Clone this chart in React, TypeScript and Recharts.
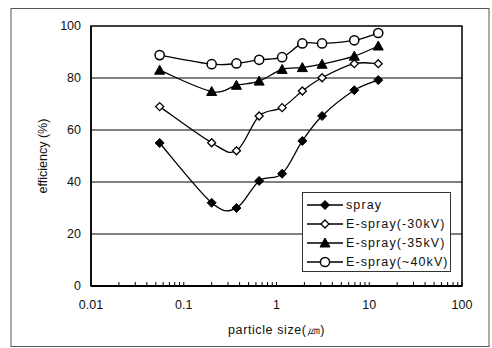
import { LineChart, Line, XAxis, YAxis, CartesianGrid, ReferenceArea } from 'recharts'

const sizes = [0.055, 0.2, 0.37, 0.65, 1.15, 1.9, 3.1, 6.9, 12.5]
const spray = [55, 32, 30, 40.4, 43.2, 55.8, 65.4, 75.3, 79.2]
const espray30 = [69, 55.1, 52, 65.4, 68.6, 75, 80.1, 85.5, 85.5]
const espray35 = [83, 74.8, 77.2, 78.8, 83.3, 84, 85.3, 88.4, 92.3]
const espray40 = [88.8, 85.3, 85.6, 87, 88, 93.3, 93.3, 94.5, 97.3]

const seriesNames = ['spray', 'E-spray(-30kV)', 'E-spray(-35kV)', 'E-spray(~40kV)']
const yTicks = [0, 20, 40, 60, 80, 100]
const xLabels: Record<string, string> = { '0.01': '0.01', '0.1': '0.1', '1': '1', '10': '10', '100': '100' }
const xTicks = [
  0.01, 0.02, 0.03, 0.04, 0.05, 0.06, 0.07, 0.08, 0.09,
  0.1, 0.2, 0.3, 0.4, 0.5, 0.6, 0.7, 0.8, 0.9,
  1, 2, 3, 4, 5, 6, 7, 8, 9,
  10, 20, 30, 40, 50, 60, 70, 80, 90,
  100,
]

const data = sizes.map((x, i) => ({
  x,
  spray: spray[i],
  e30: espray30[i],
  e35: espray35[i],
  e40: espray40[i],
}))

// catmull-rom style smoothing, close to the spreadsheet "smoothed line"
const smooth: any = (ctx: any) => {
  let pts: [number, number][] = []
  return {
    areaStart() {},
    areaEnd() {},
    lineStart() { pts = [] },
    point(x: number, y: number) { pts.push([x, y]) },
    lineEnd() {
      if (!pts.length) return
      ctx.moveTo(pts[0][0], pts[0][1])
      for (let i = 0; i < pts.length - 1; i++) {
        const p0 = pts[Math.max(i - 1, 0)]
        const p1 = pts[i]
        const p2 = pts[i + 1]
        const p3 = pts[Math.min(i + 2, pts.length - 1)]
        ctx.bezierCurveTo(
          p1[0] + (p2[0] - p0[0]) / 6, p1[1] + (p2[1] - p0[1]) / 6,
          p2[0] - (p3[0] - p1[0]) / 6, p2[1] - (p3[1] - p1[1]) / 6,
          p2[0], p2[1],
        )
      }
    },
  }
}

function Marker({ kind, cx, cy }: { kind: number; cx: number; cy: number }) {
  if (kind === 0) return <path d={`M${cx},${cy - 4.5}L${cx + 4.5},${cy}L${cx},${cy + 4.5}L${cx - 4.5},${cy}Z`} fill="#000" stroke="#000" strokeWidth={1} />
  if (kind === 1) return <path d={`M${cx},${cy - 4}L${cx + 4},${cy}L${cx},${cy + 4}L${cx - 4},${cy}Z`} fill="#fff" stroke="#000" strokeWidth={1.3} />
  if (kind === 2) return <path d={`M${cx},${cy - 5}L${cx + 5},${cy + 4}L${cx - 5},${cy + 4}Z`} fill="#000" stroke="#000" strokeWidth={1} />
  return <circle cx={cx} cy={cy} r={4.6} fill="#fff" stroke="#000" strokeWidth={1.5} />
}

const dotFor = (kind: number) => (p: any) => <Marker key={p.index} kind={kind} cx={p.cx} cy={p.cy} />

function XTick(props: any) {
  const { x, y, payload } = props
  const label = xLabels[String(payload.value)]
  return (
    <g>
      <line x1={x} y1={y} x2={x} y2={y - 4} stroke="#000" strokeWidth={1} />
      {label && (
        <text x={x} y={y + 23} textAnchor="middle" fontSize={12.5} fill="#111">
          {label}
        </text>
      )}
    </g>
  )
}

function LegendBox() {
  return (
    <div
      style={{
        position: 'absolute',
        left: 302,
        top: 192,
        boxSizing: 'border-box',
        width: 149,
        height: 80,
        border: '1px solid #333',
        background: '#fff',
        padding: '2px 0 0 4px',
        fontFamily: '"Liberation Sans", Arial, sans-serif',
        fontSize: 12.5,
        letterSpacing: 1.1,
        color: '#111',
      }}
    >
      {seriesNames.map((n, i) => (
        <div key={n} style={{ display: 'flex', alignItems: 'center', height: 19 }}>
          <svg width={37} height={12} style={{ marginRight: 2 }}>
            <line x1={0} y1={6} x2={36} y2={6} stroke="#000" strokeWidth={1.5} />
            <Marker kind={i} cx={18} cy={6} />
          </svg>
          <span>{n}</span>
        </div>
      ))}
    </div>
  )
}

export default function App() {
  return (
    <div style={{ position: 'relative', width: 492, height: 348, background: '#fff' }}>
      <style>{'body{margin:0}'}</style>
      <svg width={492} height={348} style={{ position: 'absolute', left: 0, top: 0 }}>
        <rect x={11} y={8.5} width={478} height={338} fill="none" stroke="#555" strokeWidth={1} />
      </svg>
      <div style={{ position: 'absolute', left: 0, top: 0 }}>
        <LineChart
          width={492}
          height={348}
          data={data}
          margin={{ top: 26, right: 30, bottom: 0, left: 31 }}
          style={{ fontFamily: '"Liberation Sans", Arial, sans-serif' }}
        >
          <CartesianGrid vertical={false} stroke="#000" strokeWidth={1} horizontalValues={[20, 40, 60, 80]} />
          <ReferenceArea x1={0.01} x2={100} y1={0} y2={100} fill="none" stroke="#000" strokeWidth={1.5} ifOverflow="visible" />
          <XAxis
            dataKey="x"
            type="number"
            scale="log"
            domain={[0.01, 100]}
            ticks={xTicks}
            interval={0}
            tickLine={false}
            tickSize={0}
            tickMargin={0}
            tick={<XTick />}
            axisLine={{ stroke: '#000', strokeWidth: 2 }}
            height={62}
            allowDataOverflow
            label={{ value: 'particle size(㎛)', position: 'insideBottom', offset: 14, fill: '#111', fontSize: 12.5, letterSpacing: 0.6 }}
          />
          <YAxis
            type="number"
            domain={[0, 100]}
            ticks={yTicks}
            interval={0}
            width={60}
            tickLine={false}
            tickSize={0}
            tickMargin={10}
            axisLine={{ stroke: '#000', strokeWidth: 1.5 }}
            tick={{ fill: '#111', fontSize: 12.5 }}
            label={{ value: 'efficiency (%)', angle: -90, position: 'insideLeft', offset: 12, fill: '#111', fontSize: 12.5, style: { textAnchor: 'middle' } }}
          />
          <Line dataKey="spray" name={seriesNames[0]} type={smooth} stroke="#000" strokeWidth={1.3} dot={dotFor(0)} isAnimationActive={false} />
          <Line dataKey="e30" name={seriesNames[1]} type={smooth} stroke="#000" strokeWidth={1.3} dot={dotFor(1)} isAnimationActive={false} />
          <Line dataKey="e35" name={seriesNames[2]} type={smooth} stroke="#000" strokeWidth={1.3} dot={dotFor(2)} isAnimationActive={false} />
          <Line dataKey="e40" name={seriesNames[3]} type={smooth} stroke="#000" strokeWidth={1.3} dot={dotFor(3)} isAnimationActive={false} />
        </LineChart>
      </div>
      <LegendBox />
    </div>
  )
}
